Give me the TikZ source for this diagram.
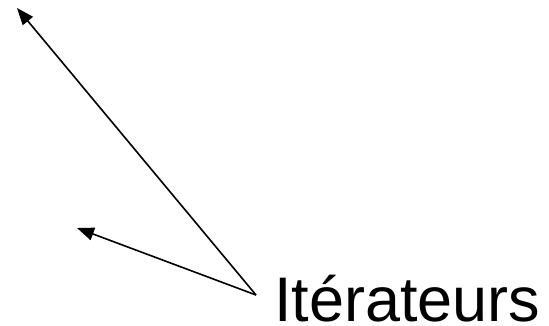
\documentclass[tikz,border=0pt]{standalone}
\usepackage{fontspec}
\setmainfont{Liberation Sans}
\usetikzlibrary{arrows.meta}
\begin{document}
\begin{tikzpicture}[x=1pt,y=-1pt,
  arr/.style={line width=1.6pt,-{Triangle[length=17pt,width=13pt]}}]
\useasboundingbox (0,0) rectangle (549,326);
\node[anchor=base west,inner sep=0pt,font=\fontsize{63}{70}\selectfont] (lbl) at (274,321) {Itérateurs};
\coordinate (o) at (256,295);
\coordinate (t1) at (17,8);
\coordinate (t2) at (77,228);
\draw[arr] (o) -- (t1);
\draw[arr] (o) -- (t2);
\end{tikzpicture}
\end{document}
